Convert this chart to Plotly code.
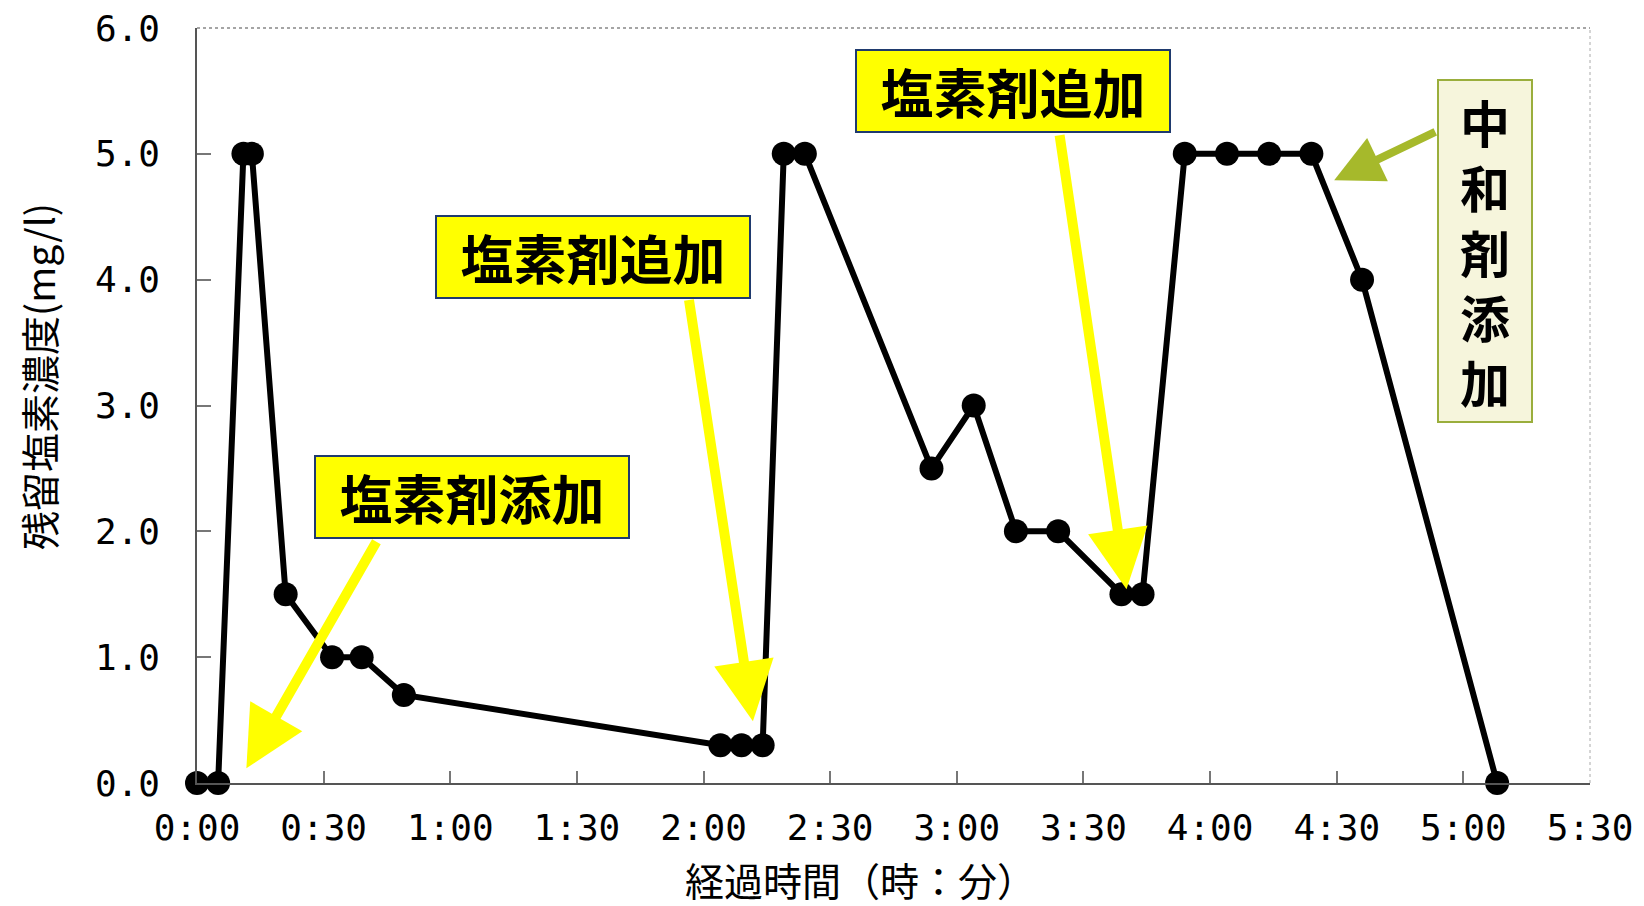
import plotly.graph_objects as go

# elapsed time (minutes) and residual chlorine (mg/l)
minutes = [0, 5, 11, 13, 21, 32, 39, 49, 124, 129, 134, 139, 144, 174, 184, 194, 204,
           219, 224, 234, 244, 254, 264, 276, 308]
chlorine = [0.0, 0.0, 5.0, 5.0, 1.5, 1.0, 1.0, 0.7, 0.3, 0.3, 0.3, 5.0, 5.0, 2.5, 3.0, 2.0, 2.0,
            1.5, 1.5, 5.0, 5.0, 5.0, 5.0, 4.0, 0.0]

x_tickvals = [0, 30, 60, 90, 120, 150, 180, 210, 240, 270, 300, 330]
x_ticktext = ["0:00", "0:30", "1:00", "1:30", "2:00", "2:30", "3:00", "3:30", "4:00", "4:30", "5:00", "5:30"]
y_tickvals = [0, 1, 2, 3, 4, 5, 6]
y_ticktext = ["0.0", "1.0", "2.0", "3.0", "4.0", "5.0", "6.0"]

x_title = "経過時間（時：分）"
y_title = "残留塩素濃度(mg/l)"

CJK = "Noto Sans CJK JP"
MONO = "DejaVu Sans Mono"

fig = go.Figure()
fig.add_trace(go.Scatter(
    x=minutes, y=chlorine, mode="lines+markers",
    line=dict(color="black", width=6),
    marker=dict(color="black", size=24),
    cliponaxis=False, showlegend=False,
))

axis_common = dict(showgrid=False, zeroline=False, ticks="inside", tickcolor="#777777",
                   tickwidth=1.5, showline=True, linecolor="#555555", linewidth=1.5,
                   mirror=False, automargin=False, ticklabeloverflow="allow")

fig.update_xaxes(range=[0, 330], tickvals=x_tickvals, ticktext=x_ticktext, ticklen=12,
                 tickfont=dict(family=MONO, size=36, color="black"), ticklabelstandoff=12,
                 **axis_common)
fig.update_yaxes(range=[0, 6], tickvals=y_tickvals, ticktext=y_ticktext, ticklen=14,
                 tickfont=dict(family=MONO, size=36, color="black"), ticklabelstandoff=28,
                 **axis_common)

shapes = [
    # dotted top & right frame
    dict(type="line", xref="paper", yref="paper", x0=0, x1=1, y0=1, y1=1,
         line=dict(color="#888888", width=1.5, dash="dot")),
    dict(type="line", xref="paper", yref="paper", x0=1, x1=1, y0=0, y1=1,
         line=dict(color="#aaaaaa", width=1, dash="dot")),
]

annotations = []
yellow_boxes = [("塩素剤添加", 65.1, 2.275), ("塩素剤追加", 93.9, 4.18), ("塩素剤追加", 193.3, 5.5)]
for txt, bx, by in yellow_boxes:
    annotations.append(dict(x=bx, y=by, xref="x", yref="y", text=txt, showarrow=False,
                            font=dict(family=CJK, size=53, color="black", weight="bold"),
                            bgcolor="#FFFF00", bordercolor="#1F3A6E", borderwidth=2,
                            borderpad=0, width=312, height=80))
annotations.append(dict(x=305.2, y=4.225, xref="x", yref="y",
                        text="中<br>和<br>剤<br>添<br>加", showarrow=False,
                        font=dict(family=CJK, size=50, color="black", weight="bold"),
                        bgcolor="#F6F5DC", bordercolor="#9AAE3C", borderwidth=2,
                        borderpad=0, width=92, height=340))

arrows = [
    (11.7, 0.117, 42.7, 1.93, "#FFFF00", 10),
    (131.7, 0.49, 116.5, 3.85, "#FFFF00", 10),
    (220.2, 1.54, 204.3, 5.16, "#FFFF00", 10),
    (269.4, 4.79, 293.7, 5.18, "#A6B92B", 8),
]
for tx, ty, sx, sy, col, w in arrows:
    annotations.append(dict(x=tx, y=ty, ax=sx, ay=sy, xref="x", yref="y", axref="x", ayref="y",
                            text="", showarrow=True, arrowhead=2, arrowsize=1.2,
                            arrowwidth=w, arrowcolor=col, standoff=0, startstandoff=0))

annotations.append(dict(x=0.476, y=-0.1275, xref="paper", yref="paper", text=x_title,
                        showarrow=False, font=dict(family=CJK, size=39, color="black"),
                        xanchor="center", yanchor="middle"))
annotations.append(dict(x=-0.114, y=0.538, xref="paper", yref="paper", text=y_title,
                        showarrow=False, textangle=-90,
                        font=dict(family=CJK, size=39, color="black"),
                        xanchor="center", yanchor="middle"))

# page body has an 8px default margin, so the figure is made 8px smaller
fig.update_layout(
    width=1636, height=898,
    margin=dict(l=189, r=54, t=20, b=123),
    paper_bgcolor="white", plot_bgcolor="white",
    shapes=shapes, annotations=annotations,
)

fig.write_html("out.html")
